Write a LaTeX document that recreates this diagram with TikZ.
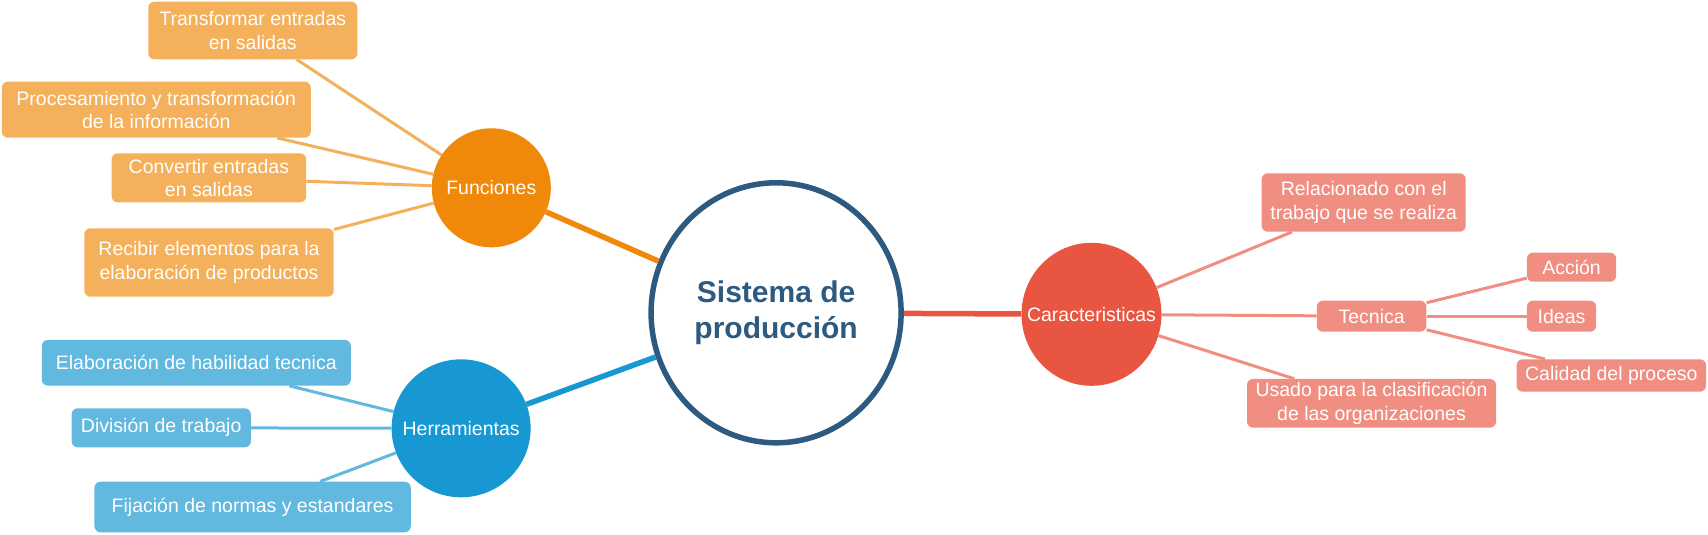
\documentclass[tikz,border=0pt]{standalone}
\usepackage{fontspec}
\setmainfont{Liberation Sans}
\usetikzlibrary{shapes.geometric}

\definecolor{navy}{HTML}{2D5A80}
\definecolor{funcDark}{HTML}{F0880A}
\definecolor{funcLight}{HTML}{F4B05A}
\definecolor{herrDark}{HTML}{1798D3}
\definecolor{herrLight}{HTML}{62B9E0}
\definecolor{carDark}{HTML}{E85642}
\definecolor{carLight}{HTML}{F08E82}

\newcommand{\hubtext}[1]{\makebox[0pt]{#1}}

\tikzset{
  hub/.style={ellipse, inner sep=0pt, text=white, font=\fontsize{19.5}{23.3}\selectfont},
  leaf/.style={rectangle, rounded corners=6pt, inner xsep=4pt, inner ysep=2pt, text=white, align=center, font=\fontsize{19.5}{23.3}\selectfont},
  trunk/.style={line width=5.5pt},
  twig/.style={line width=3pt}
}

\begin{document}
\begin{tikzpicture}[x=1pt,y=-1pt]
        \useasboundingbox (0,0) rectangle (1708,535);

        \node[ellipse, draw=navy, line width=5.5pt, fill=white, minimum width=250pt, minimum height=260pt, inner sep=0pt,
              align=center, text=navy, font=\fontsize{30}{35.5}\bfseries\selectfont] (sys) at (776.1,312.8) {Sistema de\\producción};

        \node[hub, fill=funcDark, minimum width=119pt, minimum height=119pt] (fun) at (491.3,187.8) {\hubtext{Funciones}};
        \node[hub, fill=herrDark, minimum width=139pt, minimum height=138pt] (herr) at (461.1,428.3) {\hubtext{Herramientas}};
        \node[hub, fill=carDark, minimum width=140pt, minimum height=143pt] (car) at (1091.5,314.3) {\hubtext{Caracteristicas}};

        \node[leaf, fill=funcLight, minimum width=209pt, minimum height=57.6pt] (f1) at (252.8,30.5) {Transformar entradas\\en salidas};
        \node[leaf, fill=funcLight, minimum width=309pt, minimum height=56pt] (f2) at (156.3,109.7) {Procesamiento y transformación\\de la información};
        \node[leaf, fill=funcLight, minimum width=194.5pt, minimum height=49pt] (f3) at (208.9,177.8) {Convertir entradas\\en salidas};
        \node[leaf, fill=funcLight, minimum width=249.4pt, minimum height=68.4pt] (f4) at (209,262.5) {Recibir elementos para la\\elaboración de productos};

        \node[leaf, fill=herrLight, minimum width=309pt, minimum height=45.7pt] (h1) at (196.3,362.8) {Elaboración de habilidad tecnica};
        \node[leaf, fill=herrLight, minimum width=179.2pt, minimum height=39pt] (h2) at (161.2,427.8) {División de trabajo};
        \node[leaf, fill=herrLight, minimum width=316.3pt, minimum height=50.6pt] (h3) at (252.6,507) {Fijación de normas y estandares};

        \node[leaf, fill=carLight, minimum width=204pt, minimum height=58.4pt] (c1) at (1363.7,202.5) {Relacionado con el\\trabajo que se realiza};
        \node[leaf, fill=carLight, minimum width=109.5pt, minimum height=31pt] (c2) at (1371.6,316.2) {Tecnica};
        \node[leaf, fill=carLight, minimum width=249pt, minimum height=48.7pt] (c3) at (1371.5,403.3) {Usado para la clasificación\\de las organizaciones};

        \node[leaf, fill=carLight, minimum width=89.2pt, minimum height=29pt] (t1) at (1571.5,267.2) {Acción};
        \node[leaf, fill=carLight, minimum width=69.3pt, minimum height=31pt] (t2) at (1561.5,316.2) {Ideas};
        \node[leaf, fill=carLight, minimum width=189.4pt, minimum height=32.4pt] (t3) at (1611.3,375.5) {Calidad del proceso};

        \draw[trunk, funcDark] (sys) -- (fun);% Funciones branch
        \draw[trunk, herrDark] (sys) -- (herr);% Herramientas branch
        \draw[trunk, carDark] (sys) -- (car);% Caracteristicas branch

        \draw[twig, funcLight] (fun) -- (f1);
        \draw[twig, funcLight] (fun) -- (f2);
        \draw[twig, funcLight] (fun) -- (f3);
        \draw[twig, funcLight] (fun) -- (f4);

        \draw[twig, herrLight] (herr) -- (h1);
        \draw[twig, herrLight] (herr) -- (h2);
        \draw[twig, herrLight] (herr) -- (h3);

        \draw[twig, carLight] (car) -- (c1);
        \draw[twig, carLight] (car) -- (c2);
        \draw[twig, carLight] (car) -- (c3);

        \draw[twig, carLight] (c2) -- (t1);% Tecnica leaves
        \draw[twig, carLight] (c2) -- (t2);
        \draw[twig, carLight] (c2) -- (t3);
    \end{tikzpicture}
\end{document}
